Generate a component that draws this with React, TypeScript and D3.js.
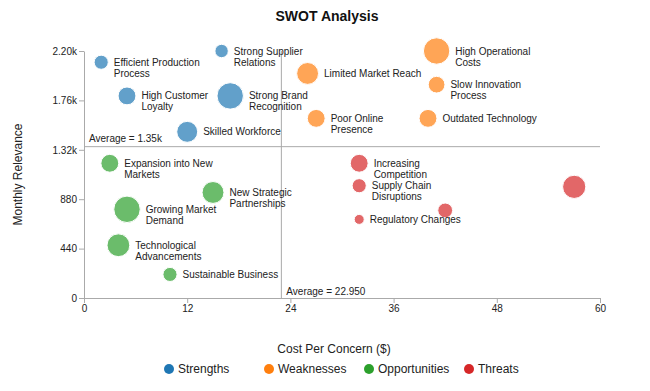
import { useRef, useEffect } from "react";
import * as d3 from "d3";

const categories = ["Strengths", "Weaknesses", "Opportunities", "Threats"];
const colors = ["#1f77b4", "#ff7f0e", "#2ca02c", "#d62728"];

// "\n" marks where the label wraps; empty string = no label drawn
const labels = [
  "Efficient Production\nProcess", "Strong Supplier\nRelations", "High Customer\nLoyalty", "Strong Brand\nRecognition", "Skilled Workforce",
  "High Operational\nCosts", "Limited Market Reach", "Slow Innovation\nProcess", "Poor Online\nPresence", "Outdated Technology",
  "Expansion into New\nMarkets", "New Strategic\nPartnerships", "Growing Market\nDemand", "Technological\nAdvancements", "Sustainable Business",
  "Increasing\nCompetition", "Supply Chain\nDisruptions", "", "Regulatory Changes", "",
];
const category = [0, 0, 0, 0, 0, 1, 1, 1, 1, 1, 2, 2, 2, 2, 2, 3, 3, 3, 3, 3];
const cost = [2, 16, 5, 17, 12, 41, 26, 41, 27, 40, 3, 15, 5, 4, 10, 32, 32, 42, 32, 57];
const relevance = [2100, 2200, 1800, 1800, 1480, 2200, 2000, 1900, 1600, 1600, 1200, 940, 790, 470, 210, 1200, 1000, 780, 700, 990];
const impact = [50, 45, 80, 175, 110, 175, 120, 70, 80, 80, 80, 120, 175, 130, 50, 80, 50, 55, 25, 135];

const xTicks = [0, 12, 24, 36, 48, 60];
const yTicks = [0, 440, 880, 1320, 1760, 2200];

const W = 650;
const H = 391;
const M = { top: 51, right: 50, bottom: 93, left: 84 };
const FONT = "'Liberation Sans', Arial, sans-serif";

export default function App() {
  const svgRef = useRef<SVGSVGElement>(null);

  useEffect(() => {
    if (!svgRef.current) return;
    const svg = d3.select(svgRef.current);
    svg.selectAll("*").remove();

    const data = labels.map((label, i) => ({
      label, cat: category[i], x: cost[i], y: relevance[i], size: impact[i],
    }));

    const x = d3.scaleLinear().domain([0, 60]).range([M.left, W - M.right]);
    const y = d3.scaleLinear().domain([0, 2200]).range([H - M.bottom, M.top]);
    const r = d3.scaleSqrt().domain([0, 180]).range([0, 13.4]);

    const avgX = d3.mean(data, d => d.x)!;
    const avgY = d3.mean(data, d => d.y)!;

    // Title
    svg.append("text")
      .attr("x", 327).attr("y", 21)
      .attr("text-anchor", "middle")
      .attr("font-size", 14).attr("font-weight", "bold")
      .attr("fill", "#111")
      .text("SWOT Analysis");

    // Axes
    const fmtY = (d: number) => (d === 0 ? "0" : d3.format(".3s")(d));
    const gy = svg.append("g")
      .attr("transform", `translate(${M.left},0)`)
      .call(d3.axisLeft(y).tickValues(yTicks).tickSize(5).tickPadding(2).tickSizeOuter(0).tickFormat(d => fmtY(+d)));
    const gx = svg.append("g")
      .attr("transform", `translate(0,${H - M.bottom})`)
      .call(d3.axisBottom(x).tickValues(xTicks).tickSize(5).tickPadding(2).tickSizeOuter(0));
    [gx, gy].forEach(g => {
      g.select(".domain").attr("stroke", "#aaa");
      g.selectAll(".tick line").attr("stroke", "#aaa");
      g.selectAll(".tick text").attr("fill", "#222").attr("font-size", 10).attr("font-family", FONT);
    });

    // Axis titles
    svg.append("text")
      .attr("transform", `translate(18,${(M.top + H - M.bottom) / 2}) rotate(-90)`)
      .attr("text-anchor", "middle").attr("dy", "0.35em")
      .attr("font-size", 12).attr("fill", "#222")
      .text("Monthly Relevance");
    svg.append("text")
      .attr("x", 334).attr("y", 353)
      .attr("text-anchor", "middle")
      .attr("font-size", 12).attr("fill", "#222")
      .text("Cost Per Concern ($)");

    // Average lines
    svg.append("line")
      .attr("x1", x(0)).attr("x2", x(60))
      .attr("y1", y(avgY)).attr("y2", y(avgY))
      .attr("stroke", "#aaa");
    svg.append("line")
      .attr("x1", x(avgX)).attr("x2", x(avgX))
      .attr("y1", y(2200)).attr("y2", y(0))
      .attr("stroke", "#aaa");
    svg.append("text")
      .attr("x", x(0) + 5).attr("y", y(avgY) - 5)
      .attr("font-size", 10).attr("fill", "#222")
      .text(`Average = ${d3.format(".3s")(avgY)}`);
    svg.append("text")
      .attr("x", x(avgX) + 5).attr("y", y(0) - 3)
      .attr("font-size", 10).attr("fill", "#222")
      .text(`Average = ${d3.format(".3f")(avgX)}`);

    // Bubbles
    svg.append("g")
      .selectAll("circle")
      .data(data)
      .join("circle")
      .attr("cx", d => x(d.x))
      .attr("cy", d => y(d.y))
      .attr("r", d => r(d.size))
      .attr("fill", d => colors[d.cat])
      .attr("fill-opacity", 0.7)
      .attr("stroke", "#fff")
      .attr("stroke-width", 1);

    // Labels
    const lbl = svg.append("g")
      .selectAll("text")
      .data(data.filter(d => d.label))
      .join("text")
      .attr("x", d => x(d.x) + r(d.size) + 5.5)
      .attr("y", d => y(d.y))
      .attr("font-size", 10)
      .attr("fill", "#222");
    lbl.selectAll("tspan")
      .data(d => d.label.split("\n").map(t => ({ t, x: x(d.x) + r(d.size) + 5.5 })))
      .join("tspan")
      .attr("x", d => d.x)
      .attr("dy", (_, i) => (i === 0 ? "0.35em" : "1.1em"))
      .text(d => d.t);

    // Legend
    const lg = svg.append("g")
      .selectAll("g")
      .data(categories)
      .join("g")
      .attr("transform", (_, i) => `translate(${169 + i * 100},369)`);
    lg.append("circle").attr("r", 5).attr("fill", (_, i) => colors[i]);
    lg.append("text")
      .attr("x", 9).attr("dy", "0.35em")
      .attr("font-size", 12).attr("fill", "#222")
      .text(d => d);
  }, []);

  return (
    <svg
      ref={svgRef}
      width={W}
      height={H}
      style={{ position: "absolute", left: 0, top: 0, fontFamily: FONT, background: "#fff" }}
    />
  );
}
